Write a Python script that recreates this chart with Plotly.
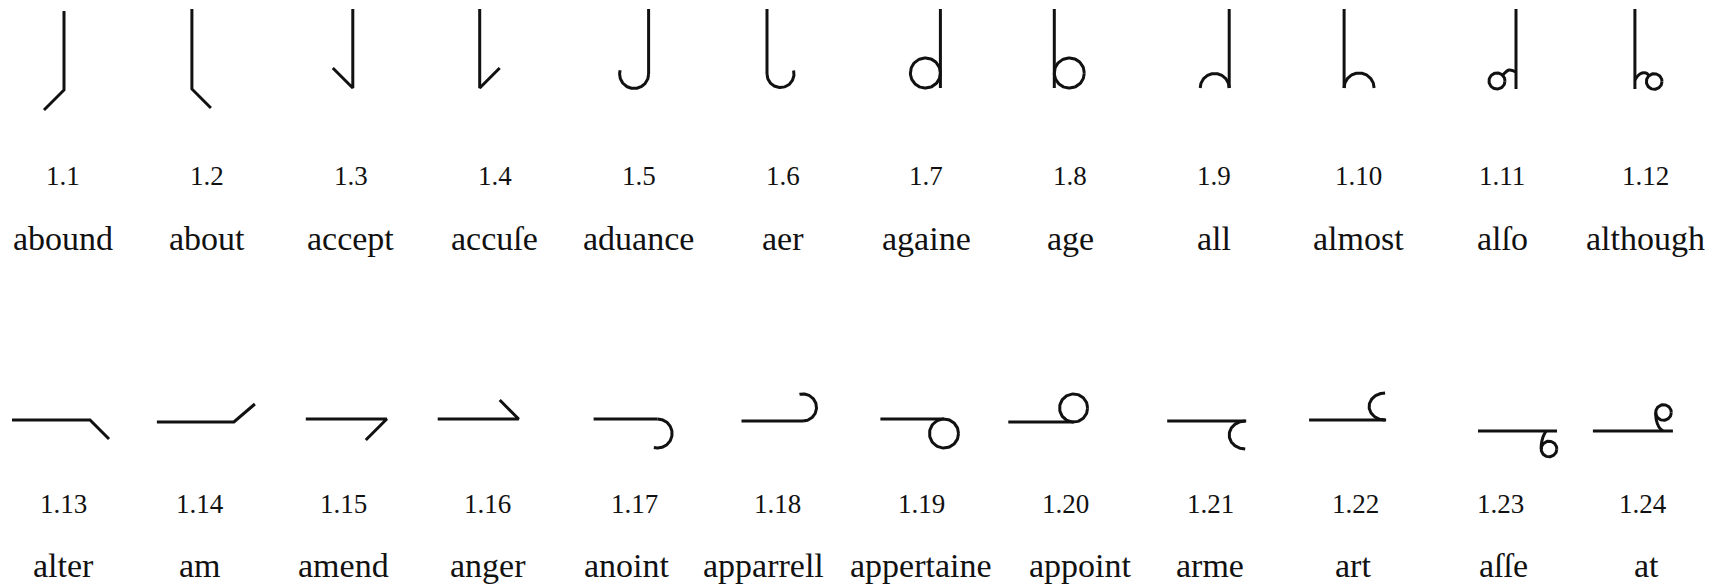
import numpy as np
import plotly.graph_objects as go

# labels of the signs
NUMS_ROW1 = ["1.1", "1.2", "1.3", "1.4", "1.5", "1.6", "1.7", "1.8", "1.9", "1.10", "1.11", "1.12"]
WORDS_ROW1 = ["abound", "about", "accept", "accuſe", "aduance", "aer",
              "againe", "age", "all", "almost", "alſo", "although"]
NUMS_ROW2 = ["1.13", "1.14", "1.15", "1.16", "1.17", "1.18", "1.19", "1.20", "1.21", "1.22", "1.23", "1.24"]
WORDS_ROW2 = ["alter", "am", "amend", "anger", "anoint", "apparrell",
              "appertaine", "appoint", "arme", "art", "aſſe", "at"]

# stroke shapes of each sign, in sign-local units
# ("L", pts) straight strokes, ("A", cx, cy, rx, ry, t0, t1) arcs (deg), ("S", pts) curved joins
GLYPHS_ROW1 = [
    [("L", [(1, 11), (1, 90), (-19, 110)])],
    [("L", [(-15, 9), (-15, 89), (4, 108)])],
    [("L", [(2, 9), (2, 88), (-18, 68)])],
    [("L", [(-15, 9), (-15, 88), (5, 68)])],
    [("L", [(10, 9), (10, 74)]), ("A", -4.5, 74, 14.5, 14.5, 0, 195)],
    [("L", [(-15.5, 9), (-15.5, 74)]), ("A", -2, 74, 13.5, 13.5, 180, -15)],
    [("L", [(14, 9), (14, 88)]), ("A", -1, 73, 15, 15, 0, 360)],
    [("L", [(-16, 9), (-16, 88)]), ("A", -1, 73, 15, 15, 0, 360)],
    [("L", [(15, 9), (15, 88)]), ("A", 0.5, 88, 14.5, 14.5, 0, -180)],
    [("L", [(-14, 9), (-14, 88)]), ("A", 1, 88, 15, 15, 180, 360)],
    [("L", [(14, 9), (14, 89)]), ("A", -5, 81, 8, 8, 0, 360),
     ("S", [(14, 72), (7, 70), (0.7, 75.3)])],
    [("L", [(-11, 9), (-11, 89)]), ("A", 8.3, 81.5, 7.8, 7.8, 0, 360),
     ("S", [(-11, 80), (-6, 74), (0, 73), (3, 75.5)])],
]

GLYPHS_ROW2 = [
    [("L", [(-51, 20), (27, 20), (46, 39)])],
    [("L", [(-50, 22), (27, 22), (48, 4)])],
    [("L", [(-45, 19), (36, 19), (15, 40)])],
    [("L", [(-57, 19), (24, 19), (5, 0)])],
    [("L", [(-45, 19), (19, 19)]), ("A", 19, 33.5, 14.5, 14.5, -90, 105)],
    [("L", [(-41, 21), (20.5, 21)]), ("A", 20.5, 7.5, 13.5, 13.5, 90, -105)],
    [("L", [(-46, 19), (17.6, 19)]), ("A", 17.6, 33.5, 14.5, 14.5, 0, 360)],
    [("L", [(-62, 22), (3.3, 22)]), ("A", 3.3, 8, 14, 14, 0, 360)],
    [("L", [(-47, 21), (32, 21)]), ("A", 31, 35, 16, 14, -90, -270)],
    [("L", [(-49, 20), (28, 20)]), ("A", 27, 6.5, 16, 13.5, 90, 270)],
    [("L", [(-24, 31), (55, 31)]), ("A", 47, 49, 7.8, 7.8, 0, 360),
     ("S", [(44, 31), (41, 37), (39.4, 44), (39.2, 49)])],
    [("L", [(-53, 31), (27, 31)]), ("A", 17.6, 12.5, 7.8, 7.8, 0, 360),
     ("S", [(9.8, 12.5), (10.4, 20), (13, 27), (17, 31)])],
]

W, H = 1725, 587
PAGE_PAD = 8  # default body margin of the html page
COL0, COL_STEP = 63, 143.9
ZERO = [0] * 12
ROWS = [
    dict(glyphs=GLYPHS_ROW1, nums=NUMS_ROW1, words=WORDS_ROW1, y0=0, y_num=176, y_word=238,
         num_dx=ZERO, word_dx=ZERO),
    # second row labels sit a little off the column grid
    dict(glyphs=GLYPHS_ROW2, nums=NUMS_ROW2, words=WORDS_ROW2, y0=400, y_num=504, y_word=565,
         num_dx=[0, -7, -7, -7, -4, -5, -5, -5, -4, -3, -2, -3],
         word_dx=[0, -7, -7, -7, -12, -19, -5, 10, -4, -5, 1, 1]),
]
INK = "#111111"
FONT = "Liberation Serif"

fig = go.Figure()


def stroke_xy(stroke, cx, cy):
    kind = stroke[0]
    if kind in ("L", "S"):
        xs = [cx + p[0] for p in stroke[1]]
        ys = [cy + p[1] for p in stroke[1]]
        return xs, ys, "spline" if kind == "S" else "linear"
    _, ax, ay, rx, ry, t0, t1 = stroke
    t = np.radians(np.linspace(t0, t1, 90))
    return list(cx + ax + rx * np.cos(t)), list(cy + ay + ry * np.sin(t)), "linear"


for row in ROWS:
    for i, glyph in enumerate(row["glyphs"]):
        cx = COL0 + i * COL_STEP
        for stroke in glyph:
            xs, ys, shape = stroke_xy(stroke, cx, row["y0"])
            fig.add_trace(go.Scatter(
                x=xs, y=ys, mode="lines",
                line=dict(color=INK, width=3, shape=shape),
                hoverinfo="skip", showlegend=False,
            ))
        fig.add_annotation(x=cx + row["num_dx"][i], y=row["y_num"], text=row["nums"][i],
                           showarrow=False, font=dict(family=FONT, size=27, color=INK),
                           xanchor="center", yanchor="middle")
        fig.add_annotation(x=cx + row["word_dx"][i], y=row["y_word"], text=row["words"][i],
                           showarrow=False, font=dict(family=FONT, size=34, color=INK),
                           xanchor="center", yanchor="middle")

# page has an 8px margin, so map axis units 1:1 onto window pixels
fw, fh = W - 2 * PAGE_PAD, H - PAGE_PAD
fig.update_layout(
    width=fw, height=fh,
    margin=dict(l=0, r=0, t=0, b=0),
    paper_bgcolor="white", plot_bgcolor="white",
    xaxis=dict(range=[PAGE_PAD, PAGE_PAD + fw], visible=False, fixedrange=True),
    yaxis=dict(range=[PAGE_PAD + fh, PAGE_PAD], visible=False, fixedrange=True),
)

fig.write_html("out.html")
